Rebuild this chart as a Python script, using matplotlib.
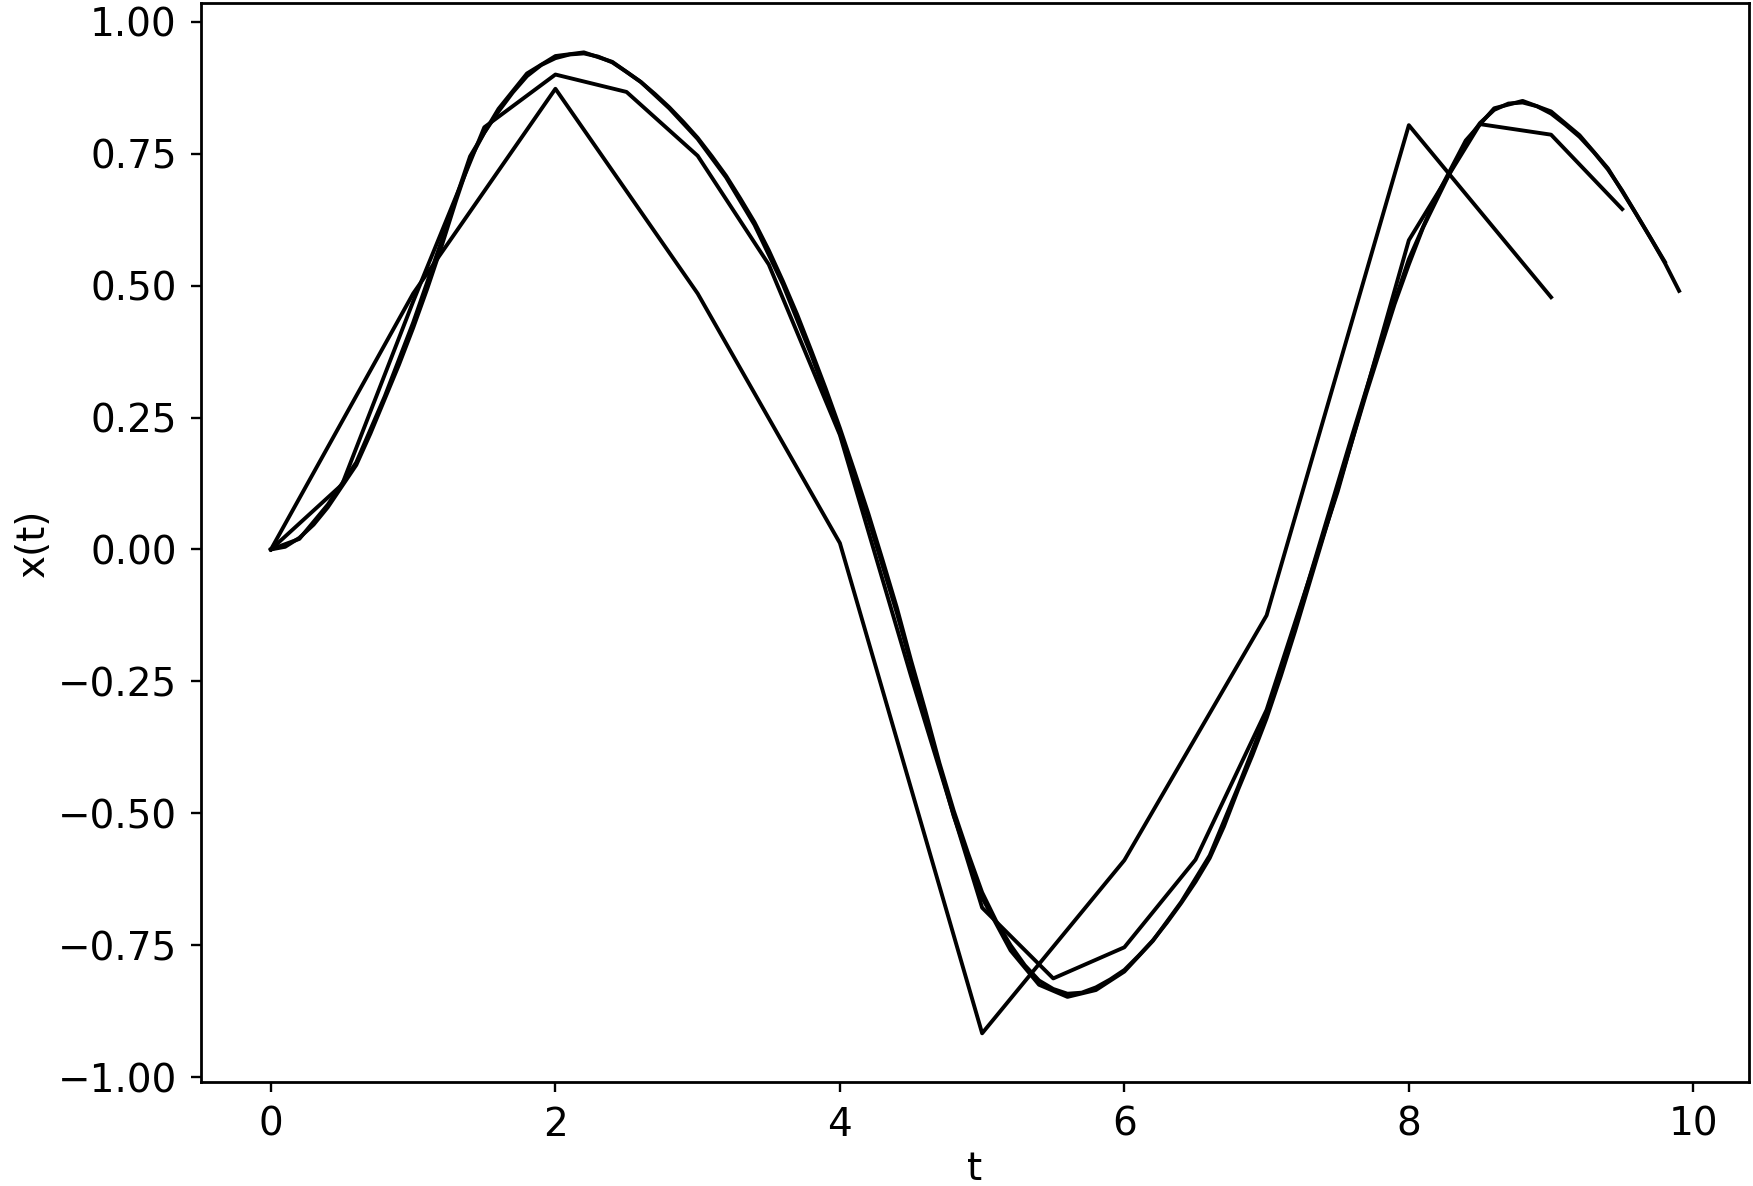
import numpy as np
import matplotlib
matplotlib.use("Agg")
import matplotlib.pyplot as plt

# time grids for the four step sizes
t_h1 = [0, 1, 2, 3, 4, 5, 6, 7, 8, 9]
x_h1 = [0.0, 0.485, 0.873, 0.485, 0.012, -0.917, -0.589, -0.125, 0.804, 0.478]

t_h05 = [0.0, 0.5, 1.0, 1.5, 2.0, 2.5, 3.0, 3.5, 4.0, 4.5,
         5.0, 5.5, 6.0, 6.5, 7.0, 7.5, 8.0, 8.5, 9.0, 9.5]
x_h05 = [0.0, 0.123, 0.47, 0.80, 0.90, 0.867, 0.746, 0.540, 0.217, -0.24,
         -0.679, -0.813, -0.754, -0.588, -0.304, 0.11, 0.586, 0.806, 0.786, 0.645]

t_h02 = [0.0, 0.2, 0.4, 0.6, 0.8, 1.0, 1.2, 1.4, 1.6, 1.8,
         2.0, 2.2, 2.4, 2.6, 2.8, 3.0, 3.2, 3.4, 3.6, 3.8,
         4.0, 4.2, 4.4, 4.6, 4.8, 5.0, 5.2, 5.4, 5.6, 5.8,
         6.0, 6.2, 6.4, 6.6, 6.8, 7.0, 7.2, 7.4, 7.6, 7.8,
         8.0, 8.2, 8.4, 8.6, 8.8, 9.0, 9.2, 9.4, 9.6, 9.8]
x_h02 = [0.0, 0.02, 0.085, 0.165, 0.29, 0.43, 0.585, 0.745, 0.835, 0.902,
         0.935, 0.942, 0.924, 0.886, 0.836, 0.778, 0.705, 0.615, 0.502, 0.368,
         0.22, 0.058, -0.12, -0.315, -0.505, -0.66, -0.76, -0.825, -0.848, -0.835,
         -0.80, -0.742, -0.668, -0.58, -0.45, -0.312, -0.145, 0.035, 0.215, 0.39,
         0.55, 0.672, 0.775, 0.836, 0.85, 0.83, 0.785, 0.722, 0.635, 0.545]

t_h01 = [0.0, 0.1, 0.2, 0.3, 0.4, 0.5, 0.6, 0.7, 0.8, 0.9,
         1.0, 1.1, 1.2, 1.3, 1.4, 1.5, 1.6, 1.7, 1.8, 1.9,
         2.0, 2.1, 2.2, 2.3, 2.4, 2.5, 2.6, 2.7, 2.8, 2.9,
         3.0, 3.1, 3.2, 3.3, 3.4, 3.5, 3.6, 3.7, 3.8, 3.9,
         4.0, 4.1, 4.2, 4.3, 4.4, 4.5, 4.6, 4.7, 4.8, 4.9,
         5.0, 5.1, 5.2, 5.3, 5.4, 5.5, 5.6, 5.7, 5.8, 5.9,
         6.0, 6.1, 6.2, 6.3, 6.4, 6.5, 6.6, 6.7, 6.8, 6.9,
         7.0, 7.1, 7.2, 7.3, 7.4, 7.5, 7.6, 7.7, 7.8, 7.9,
         8.0, 8.1, 8.2, 8.3, 8.4, 8.5, 8.6, 8.7, 8.8, 8.9,
         9.0, 9.1, 9.2, 9.3, 9.4, 9.5, 9.6, 9.7, 9.8, 9.9]
x_h01 = [0.0, 0.005, 0.022, 0.047, 0.080, 0.120, 0.160, 0.220, 0.285, 0.350,
         0.420, 0.495, 0.575, 0.660, 0.740, 0.790, 0.830, 0.866, 0.897, 0.918,
         0.931, 0.938, 0.940, 0.934, 0.923, 0.905, 0.886, 0.863, 0.838, 0.810,
         0.780, 0.745, 0.708, 0.665, 0.620, 0.567, 0.508, 0.445, 0.376, 0.305,
         0.230, 0.150, 0.068, -0.020, -0.110, -0.210, -0.305, -0.405, -0.495, -0.575,
         -0.650, -0.705, -0.750, -0.788, -0.817, -0.833, -0.842, -0.840, -0.830, -0.815,
         -0.797, -0.770, -0.741, -0.707, -0.670, -0.630, -0.585, -0.525, -0.455, -0.390,
         -0.320, -0.240, -0.155, -0.065, 0.025, 0.115, 0.205, 0.295, 0.380, 0.465,
         0.540, 0.610, 0.665, 0.720, 0.770, 0.808, 0.833, 0.845, 0.847, 0.840,
         0.826, 0.805, 0.782, 0.753, 0.720, 0.680, 0.635, 0.590, 0.543, 0.490]

plt.rcParams["font.size"] = 28

fig, ax = plt.subplots(figsize=(17.53, 11.86), dpi=100)
fig.subplots_adjust(left=0.1144, right=0.998, top=0.9972, bottom=0.0874)

for t, x in [(t_h1, x_h1), (t_h05, x_h05), (t_h02, x_h02), (t_h01, x_h01)]:
    ax.plot(t, x, color="black", linewidth=2.8)

ax.set_xlabel("t")
ax.set_ylabel("x(t)")
ax.tick_params(length=7, width=1.7, pad=10)
for sp in ax.spines.values():
    sp.set_linewidth(2.0)

fig.savefig("out.png", dpi=100)
